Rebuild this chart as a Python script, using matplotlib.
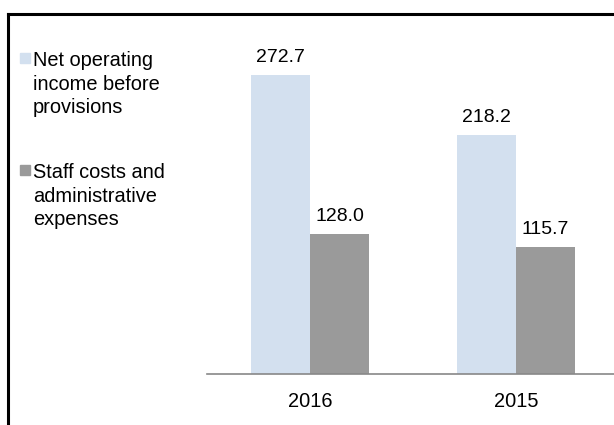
import matplotlib
matplotlib.use("Agg")
import matplotlib.pyplot as plt
import numpy as np
from matplotlib.lines import Line2D

plt.rcParams["font.family"] = ["Liberation Sans", "DejaVu Sans"]

years = ["2016", "2015"]
net_income = [272.7, 218.2]
staff_costs = [128.0, 115.7]
series_names = ["Net operating\nincome before\nprovisions",
                "Staff costs and\nadministrative\nexpenses"]
colors = ["#d3e0ef", "#9a9a9a"]

fig = plt.figure(figsize=(6.14, 4.25), dpi=100)
ax = fig.add_axes([207/614, 51/425, 407/614, 329/425])

x = np.arange(len(years))
w = 0.287
b1 = ax.bar(x - w/2, net_income, w, color=colors[0])
b2 = ax.bar(x + w/2, staff_costs, w, color=colors[1])
for bars, vals in [(b1, net_income), (b2, staff_costs)]:
    for r, v in zip(bars, vals):
        ax.text(r.get_x() + r.get_width()/2, v + 8, "%.1f" % v,
                ha="center", va="bottom", fontsize=14)

ax.set_xlim(-0.5, 1.476)
ax.set_ylim(0, 300)
ax.set_xticks(x)
ax.set_xticklabels(years, fontsize=14.4)
ax.tick_params(axis="x", length=0, pad=13)
ax.set_yticks([])
for s in ["top", "right", "left"]:
    ax.spines[s].set_visible(False)
ax.spines["bottom"].set_color("#888888")
ax.spines["bottom"].set_linewidth(1.2)

# legend drawn as text with square markers
leg_y = [58/425, 170/425]
for yy, name, c in zip(leg_y, series_names, colors):
    fig.patches.append(plt.Rectangle((20/614, 1 - yy - 5/425), 10/614, 10/425,
                                     transform=fig.transFigure, color=c))
    fig.text(33/614, 1 - yy + 7/425, name, fontsize=14.4, va="top",
             linespacing=1.3)

# frame around the chart
fig.add_artist(Line2D([8/614, 8/614], [0, 1 - 14/425], color="black", lw=2.2,
                      transform=fig.transFigure))
fig.add_artist(Line2D([8/614, 1], [1 - 14/425, 1 - 14/425], color="black", lw=2.2,
                      transform=fig.transFigure))

fig.savefig("out.png", dpi=100)
